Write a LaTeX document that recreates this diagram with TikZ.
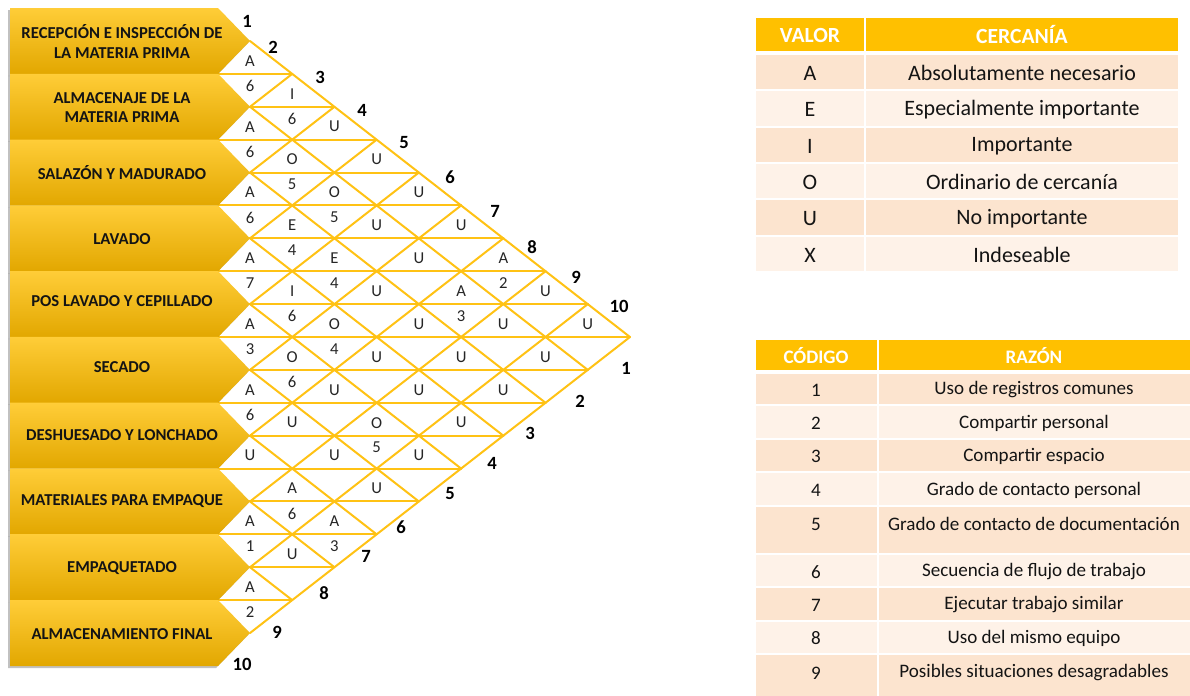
\documentclass[tikz,border=0pt]{standalone}
\usepackage{fontspec}
\setmainfont{Carlito}
\usetikzlibrary{shadows}
\definecolor{gold}{HTML}{FFC000}
\definecolor{goldlight}{HTML}{FFCD38}
\definecolor{golddark}{HTML}{E2A700}
\definecolor{gridc}{HTML}{FFC214}
\definecolor{banddark}{HTML}{FCE4CF}
\definecolor{bandlight}{HTML}{FEF2E8}
\definecolor{txt}{HTML}{141414}
\definecolor{celltxt}{HTML}{262626}
\tikzset{
  procbox/.style={top color=goldlight, middle color=gold, bottom color=golddark, draw=none,
    drop shadow={shadow xshift=-1.5pt, shadow yshift=-1.5pt, opacity=0.4, fill=black!60}},
  boxtext/.style={font=\bfseries\fontsize{12.5}{14.3}\selectfont, text=txt, align=center, inner sep=0pt},
  gridline/.style={draw=gridc, line width=1.5pt, line cap=round},
  cellt/.style={font=\fontsize{12.5}{14}\selectfont, text=celltxt, inner sep=0pt},
  edgenum/.style={font=\bfseries\fontsize{14}{16}\selectfont, text=black, inner sep=0pt},
  tcell/.style={draw=white, line width=1.6pt},
  thead/.style={font=\bfseries\fontsize{16.2}{18}\selectfont, text=white, inner sep=0pt},
  tbody/.style={font=\fontsize{16.5}{18}\selectfont, text=txt, inner sep=0pt},
  tbhead/.style={font=\bfseries\fontsize{14.3}{16}\selectfont, text=white, inner sep=0pt},
  tbbody/.style={font=\fontsize{14.3}{16}\selectfont, text=txt, inner sep=0pt}
}
\begin{document}
\begin{tikzpicture}[x=0.75pt,y=-0.75pt]
\useasboundingbox (0,0) rectangle (1190,696);
\fill[white] (0,0) rectangle (1190,696);

% ---------- grid vertices ----------
\foreach \i in {1,...,10} {
  \foreach \j in {\i,...,10} {
    \coordinate (X-\i-\j) at ({250+42.22*(\j-\i)},{41+32.89*(\i+\j-2)});
  }
}
% horizontal lines
\foreach \s in {3,...,19} {
  \pgfmathtruncatemacro\a{\s<=11 ? 1 : \s-10}
  \pgfmathtruncatemacro\b{\s-\a}
  \coordinate (L-\s) at (218,{41+32.89*(\s-2)});
  \draw[gridline] (L-\s) -- (X-\a-\b);
}
% diagonals
\foreach \i in {1,...,9} {
  \draw[gridline] (X-\i-\i) -- (X-\i-10);
}
\foreach \j in {2,...,10} {
  \draw[gridline] (X-\j-\j) -- (X-1-\j);
}

% ---------- process boxes ----------
\foreach \i in {1,...,10} {
  \pgfmathsetmacro\m{41+65.78*(\i-1)}
  \path[procbox] (10,\m-33) -- (218,\m-33) -- (250,\m) -- (218,\m+33) -- (10,\m+33) -- cycle;
}
\node[boxtext] (b1) at (122,41.5) {RECEPCIÓN E INSPECCIÓN DE\\LA MATERIA PRIMA};
\node[boxtext] (b2) at (122,107.5) {ALMACENAJE DE LA\\MATERIA PRIMA};
\node[boxtext] (b3) at (122,173) {SALAZÓN Y MADURADO};
\node[boxtext] (b4) at (122,239) {LAVADO};
\node[boxtext] (b5) at (122,301) {POS LAVADO Y CEPILLADO};
\node[boxtext] (b6) at (122,367) {SECADO};
\node[boxtext] (b7) at (122,435) {DESHUESADO Y LONCHADO};
\node[boxtext] (b8) at (122,501) {MATERIALES PARA EMPAQUE};
\node[boxtext] (b9) at (122,568) {EMPAQUETADO};
\node[boxtext] (b10) at (122,634) {ALMACENAMIENTO FINAL};

% ---------- cell letters ----------
\foreach \i/\j/\r in {1/2/A,1/3/I,1/4/U,1/5/U,1/6/U,1/7/U,1/8/A,1/9/U,1/10/U,
  2/3/A,2/4/O,2/5/O,2/6/U,2/7/U,2/8/A,2/9/U,2/10/U,
  3/4/A,3/5/E,3/6/E,3/7/U,3/8/U,3/9/U,3/10/U,
  4/5/A,4/6/I,4/7/O,4/8/U,4/9/U,4/10/U,
  5/6/A,5/7/O,5/8/U,5/9/O,5/10/U,
  6/7/A,6/8/U,6/9/U,6/10/U,
  7/8/U,7/9/A,7/10/A,
  8/9/A,8/10/U,
  9/10/A} {
  \node[cellt] (u-\i-\j) at ({250+42.22*(\j-\i-1)},{41+32.89*(\i+\j-2)-13}) {\r};
}
\foreach \i/\j/\c in {1/2/6,1/3/6,1/8/2,2/3/6,2/4/5,2/5/5,2/8/3,3/4/6,3/5/4,3/6/4,
  4/5/7,4/6/6,4/7/4,5/6/3,5/7/6,5/9/5,6/7/6,7/9/6,7/10/3,8/9/1,9/10/2} {
  \node[cellt] (l-\i-\j) at ({250+42.22*(\j-\i-1)},{41+32.89*(\i+\j-2)+12}) {\c};
}

% ---------- edge numbers ----------
\foreach \k/\x/\y in {1/247/21,2/273/47,3/320/77,4/362/110,5/404/143,6/450/177,7/495/211,8/532/247,9/576/277,10/619/306} {
  \node[edgenum] (t\k) at (\x,\y) {\k};
}
\foreach \k/\x/\y in {1/626/368,2/580/401,3/530/433,4/492/463,5/450/494,6/401/527,7/366/556,8/324/593,9/277/632,10/242/664} {
  \node[edgenum] (r\k) at (\x,\y) {\k};
}

% ---------- table 1 ----------
\path[fill=gold, tcell] (755,17) rectangle (865,52);
\path[fill=gold, tcell] (865,17) rectangle (1179,52);
\node[thead] (h1a) at (810,35) {VALOR};
\node[thead] (h1b) at (1022,35) {CERCANÍA};
\foreach \n/\t/\b/\v/\d/\col in {1/54/90/A/Absolutamente necesario/banddark,
  2/90/127/E/Especialmente importante/bandlight,
  3/127/163/I/Importante/banddark,
  4/163/199/O/Ordinario de cercanía/bandlight,
  5/199/236/U/No importante/banddark,
  6/236/272/X/Indeseable/bandlight} {
  \path[fill=\col, tcell] (755,\t) rectangle (865,\b);
  \path[fill=\col, tcell] (865,\t) rectangle (1179,\b);
  \node[tbody] (v\n) at (810,{(\t+\b)/2+1}) {\v};
  \node[tbody] (c\n) at (1022,{(\t+\b)/2+1}) {\d};
}

% ---------- table 2 ----------
\path[fill=gold, tcell] (755,339) rectangle (878,371);
\path[fill=gold, tcell] (878,339) rectangle (1191,371);
\node[tbhead] (h2a) at (816,356) {CÓDIGO};
\node[tbhead] (h2b) at (1034,356) {RAZÓN};
\foreach \n/\t/\b/\ty/\d/\col in {1/373/405/390/Uso de registros comunes/banddark,
  2/405/439/423/Compartir personal/bandlight,
  3/439/472/456.5/Compartir espacio/banddark,
  4/472/506/490/Grado de contacto personal/bandlight,
  5/506/554/524/Grado de contacto de documentación/banddark,
  6/554/587/572/Secuencia de flujo de trabajo/bandlight,
  7/587/621/605/Ejecutar trabajo similar/banddark,
  8/621/654/638.5/Uso del mismo equipo/bandlight,
  9/654/697/673/Posibles situaciones desagradables/banddark} {
  \path[fill=\col, tcell] (755,\t) rectangle (878,\b);
  \path[fill=\col, tcell] (878,\t) rectangle (1191,\b);
  \node[tbbody] (k\n) at (816,\ty) {\n};
  \node[tbbody] (z\n) at (1034,\ty) {\d};
}
\end{tikzpicture}
\end{document}
